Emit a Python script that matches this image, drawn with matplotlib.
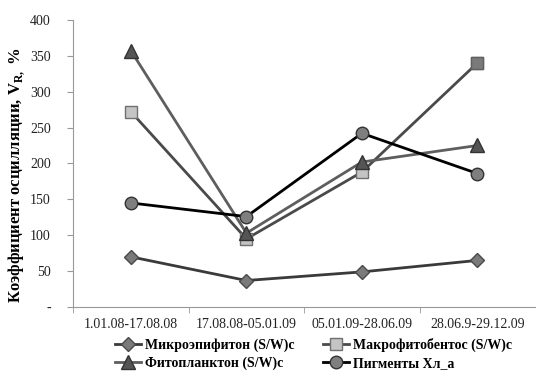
import matplotlib
matplotlib.use('Agg')
import matplotlib.pyplot as plt
from matplotlib.ticker import FixedLocator, NullFormatter

plt.rcParams['font.family'] = ['Liberation Serif', 'DejaVu Serif']
plt.rcParams['mathtext.fontset'] = 'custom'
plt.rcParams['mathtext.rm'] = 'Liberation Serif'
plt.rcParams['mathtext.bf'] = 'Liberation Serif:bold'

periods = ['1.01.08-17.08.08', '17.08.08-05.01.09', '05.01.09-28.06.09', '28.06.9-29.12.09']
micro = [70, 37, 49, 65]
macro = [272, 95, 188, 340]
phyto = [357, 103, 202, 225]
pigm = [145, 126, 242, 186]
yticks = [0, 50, 100, 150, 200, 250, 300, 350, 400]
ytick_labels = ['-', '50', '100', '150', '200', '250', '300', '350', '400']

fig = plt.figure(figsize=(5.5, 3.81), dpi=100)
ax = fig.add_axes([0.133, 0.194, 0.84, 0.754])
x = list(range(len(periods)))

h1, = ax.plot(x, micro, '-', color='#3a3a3a', lw=2, marker='D', ms=7,
              mfc='#7a7a7a', mec='#4a4a4a', label='Микроэпифитон (S/W)с', zorder=3)
h2, = ax.plot(x, macro, '-', color='#4a4a4a', lw=2, marker='s', ms=9,
              mfc='#c4c4c4', mec='#707070', label='Макрофитобентос (S/W)с', zorder=3)
# last point of this series has darker marker in original
ax.plot(x[-1:], macro[-1:], 's', ms=9, mfc='#7a7a7a', mec='#606060', zorder=4)
h3, = ax.plot(x, phyto, '-', color='#5e5e5e', lw=2, marker='^', ms=10,
              mfc='#555555', mec='#333333', label='Фитопланктон (S/W)с', zorder=3)
h4, = ax.plot(x, pigm, '-', color='#000000', lw=2, marker='o', ms=9,
              mfc='#7f7f7f', mec='#333333', label='Пигменты Хл_а', zorder=3)

ax.set_xlim(-0.5, 3.5)
ax.set_ylim(0, 400)
ax.set_yticks(yticks)
ax.set_yticklabels(ytick_labels, fontsize=10, color='#222222')
ax.tick_params(axis='y', length=4, color='#999999', pad=12)
ax.set_xticks(x)
ax.set_xticklabels(periods, fontsize=10, color='#222222')
ax.tick_params(axis='x', which='major', length=0, pad=8)
ax.xaxis.set_minor_locator(FixedLocator([-0.5, 0.5, 1.5, 2.5]))
ax.xaxis.set_minor_formatter(NullFormatter())
ax.tick_params(axis='x', which='minor', length=4, color='#999999')

for s in ['top', 'right']:
    ax.spines[s].set_visible(False)
ax.spines['left'].set_color('#999999')
ax.spines['bottom'].set_color('#999999')

ax.set_ylabel('Коэффициент осцилляции, V$_{\\mathbf{R,}}$ %', fontsize=12,
              fontweight='bold')
ax.yaxis.set_label_coords(-0.1, 0.46)

fig.legend([h1, h3, h2, h4], [h.get_label() for h in [h1, h3, h2, h4]],
           loc='lower center', bbox_to_anchor=(0.57, -0.005), ncol=2, frameon=False,
           prop={'weight': 'bold', 'size': 10}, handlelength=1.9, columnspacing=2.0,
           handletextpad=0.3, labelspacing=0.35)

fig.savefig('out.png', dpi=100)
